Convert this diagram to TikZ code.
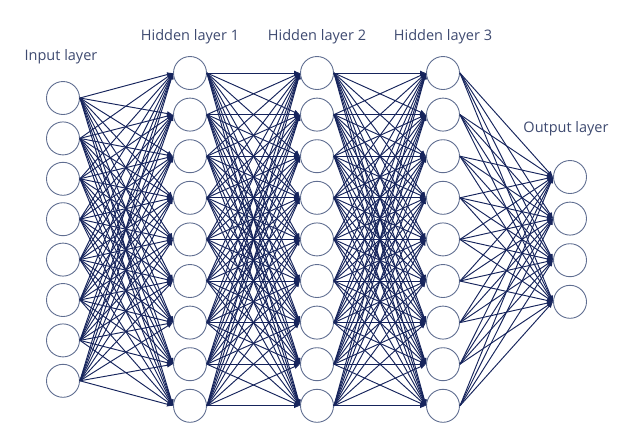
\documentclass[tikz,border=0pt]{standalone}
\usepackage{fontspec}
\setmainfont{Open Sans}
\usetikzlibrary{arrows.meta}
\definecolor{netblue}{RGB}{22,36,92}
\definecolor{ringgray}{RGB}{96,110,145}
\definecolor{labelblue}{RGB}{62,74,112}

\begin{document}
\begin{tikzpicture}[x=1pt, y=-1pt,
        neuron/.style={circle, draw=ringgray, line width=0.9pt, minimum size=33pt, inner sep=0pt},
        link/.style={-{Latex[length=6pt,width=5pt]}, draw=netblue, line width=0.95pt},
        layername/.style={font=\fontsize{14.5}{17}\selectfont, text=labelblue, inner sep=0pt}]
        \useasboundingbox (0,0) rectangle (642,445);

        % Neurons
        \foreach \i in {1,...,8}
            \node[neuron] (in\i) at (63, 98+40.4*\i-40.4) {};
        \foreach \i in {1,...,9} {
            \node[neuron] (ha\i) at (190, 73+41.6*\i-41.6) {};
            \node[neuron] (hb\i) at (317, 73+41.6*\i-41.6) {};
            \node[neuron] (hc\i) at (443, 73+41.6*\i-41.6) {};
        }
        \foreach \i in {1,...,4}
            \node[neuron] (out\i) at (570, 177+41.6*\i-41.6) {};

        % Layer names
        \node[layername] (tin) at (61, 57) {Input layer};
        \node[layername] (tha) at (190, 37) {Hidden layer 1};
        \node[layername] (thb) at (317, 37) {Hidden layer 2};
        \node[layername] (thc) at (443, 37) {Hidden layer 3};
        \node[layername] (tout) at (566, 129) {Output layer};

        % Connections
        \foreach \i in {1,...,8}
            \foreach \j in {1,...,9}
                \draw[link] (in\i.east) -- (ha\j.west);
        \foreach \i in {1,...,9}
            \foreach \j in {1,...,9} {
                \draw[link] (ha\i.east) -- (hb\j.west);
                \draw[link] (hb\i.east) -- (hc\j.west);
            }
        \foreach \i in {1,...,9}
            \foreach \j in {1,...,4}
                \draw[link] (hc\i.east) -- (out\j.west);
    \end{tikzpicture}
\end{document}
